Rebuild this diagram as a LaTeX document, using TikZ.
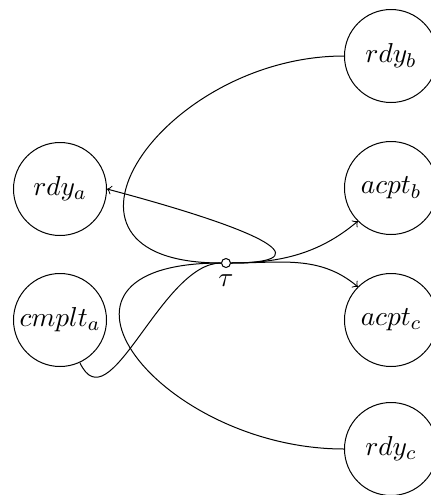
\documentclass[tikz,border=0pt]{standalone}
\usetikzlibrary{arrows}
\begin{document}
\begin{tikzpicture}[x=0.4pt,y=0.4pt,
  place/.style={circle,draw,minimum size=37.2pt,inner sep=0pt,font=\fontsize{10.95}{13}\selectfont},
  trans/.style={circle,draw,fill=white,minimum size=3.6pt,inner sep=0pt},
  arc/.style={draw,line width=0.4pt},
  outarc/.style={arc,->}]
\useasboundingbox (0,0) rectangle (431,-495);
\node[place] (rdya) at (60,-189) {$rdy_a$};
\node[place] (cmplta) at (60,-320) {$cmplt_a$};
\node[place] (rdyb) at (391,-56) {$rdy_b$};
\node[place] (acptb) at (391,-188) {$acpt_b$};
\node[place] (acptc) at (391,-320) {$acpt_c$};
\node[place] (rdyc) at (391,-449) {$rdy_c$};
\node[trans] (tau) at (226,-263) {};
\node[font=\fontsize{10.95}{13}\selectfont] (taulbl) at (226,-281) {$\tau$};
\path[arc] (rdyb.west) .. controls +(-182,0) and +(-200,0) .. (tau.west);
\path[arc] (rdyc.west) .. controls +(-183,0) and +(-209,0) .. (tau.west);
\path[arc] (cmplta.-65) .. controls +(-65:70) and +(-60,0) .. (tau.west);
\path[outarc] (tau.east) .. controls +(80,0) and +(184,-49) .. (rdya.east);
\path[outarc] (tau.east) .. controls +(50,0) and +(-38,-32) .. (acptb.-135);
\path[outarc] (tau.east) .. controls +(50,0) and +(-38,32) .. (acptc.135);
\end{tikzpicture}
\end{document}
